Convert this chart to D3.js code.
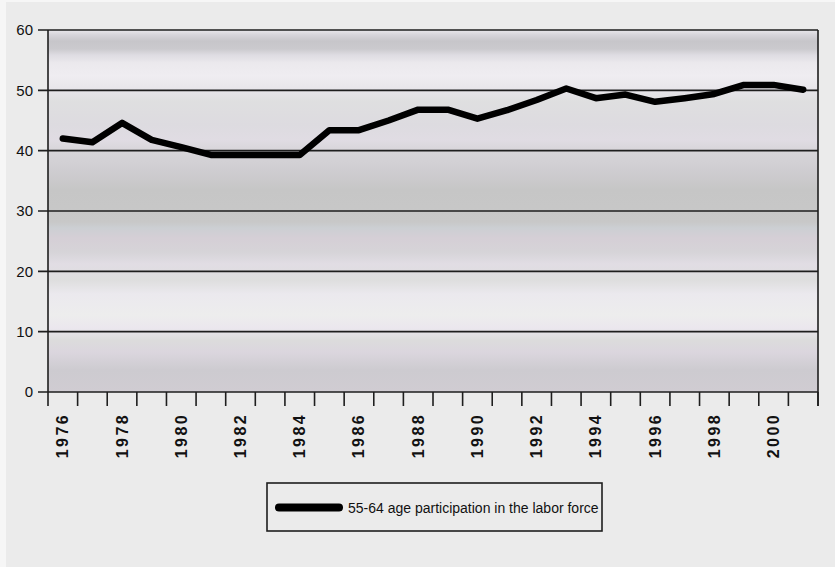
<!DOCTYPE html>
<html>
<head>
<meta charset="utf-8">
<script src="https://cdn.jsdelivr.net/npm/d3@7"></script>
<style>
  html, body { margin: 0; padding: 0; background: #f6f6f6; }
  svg { display: block; }
</style>
</head>
<body>
<svg id="chart" width="835" height="567"></svg>
<script>
// Labor force participation, ages 55-64, by year
const years = d3.range(1976, 2002);
const participation = [42.0, 41.4, 44.6, 41.8, 40.6, 39.3, 39.3, 39.3, 39.3, 43.4,
                       43.4, 45.0, 46.8, 46.8, 45.3, 46.7, 48.4, 50.3, 48.7, 49.3,
                       48.1, 48.7, 49.4, 50.9, 50.9, 50.1];
const yTicks = [0, 10, 20, 30, 40, 50, 60];
const xTickLabels = [1976, 1978, 1980, 1982, 1984, 1986, 1988, 1990, 1992, 1994, 1996, 1998, 2000];
const seriesName = "55-64 age participation in the labor force";

const svg = d3.select("#chart");
const W = 835, H = 567;
const plot = { left: 48, right: 818, top: 30, bottom: 392 };

// page background
svg.append("rect").attr("x", 6).attr("y", 2).attr("width", W - 6).attr("height", H - 2)
  .attr("fill", "#ebebeb");

const x = d3.scaleBand().domain(years).range([plot.left, plot.right]).paddingInner(0).paddingOuter(0);
const y = d3.scaleLinear().domain([0, 60]).range([plot.bottom, plot.top]);

// brushed-metal style banded backdrop
const defs = svg.append("defs");
const grad = defs.append("linearGradient").attr("id", "metal")
  .attr("gradientUnits", "userSpaceOnUse")
  .attr("x1", 0).attr("y1", plot.top).attr("x2", 0).attr("y2", plot.bottom);
const bands = [
  [30, "#e9e7eb"], [35, "#d6d4da"], [41, "#c7c6ca"], [49, "#cbcace"], [55, "#dedce2"],
  [63, "#ebe9ed"], [76, "#efedf1"], [90, "#e7e5ea"], [101, "#dfdfe0"], [125, "#dddbe0"],
  [140, "#e0dce3"], [151, "#d7d5d9"], [170, "#cfcdd1"], [190, "#c6c6c6"], [222, "#c8c8c8"],
  [228, "#cccfd3"], [238, "#d5cfd6"], [252, "#d6d4d8"], [264, "#e1dde4"], [280, "#dedede"],
  [294, "#ebe9ee"], [315, "#ededed"], [328, "#ebe7ee"], [340, "#dcdcdc"], [352, "#dbd6de"],
  [370, "#cdcbd0"], [392, "#d0ccd2"]
];
bands.forEach(([py, c]) => {
  grad.append("stop").attr("offset", (py - plot.top) / (plot.bottom - plot.top)).attr("stop-color", c);
});
svg.append("rect")
  .attr("x", plot.left).attr("y", plot.top)
  .attr("width", plot.right - plot.left).attr("height", plot.bottom - plot.top)
  .attr("fill", "url(#metal)");

// horizontal gridlines with left ticks
svg.append("g").selectAll("line").data(yTicks).join("line")
  .attr("x1", plot.left - 10).attr("x2", plot.right)
  .attr("y1", d => y(d)).attr("y2", d => y(d))
  .attr("stroke", "#1e1e1e").attr("stroke-width", 1.6);

// y labels
svg.append("g").selectAll("text").data(yTicks).join("text")
  .attr("x", 33).attr("y", d => y(d)).attr("dy", "0.36em")
  .attr("text-anchor", "end")
  .attr("font-family", "Liberation Sans, Arial, sans-serif")
  .attr("font-size", 15).attr("fill", "#111")
  .text(d => d);

// frame: left axis and right border
svg.append("line").attr("x1", plot.left).attr("x2", plot.left)
  .attr("y1", plot.top).attr("y2", plot.bottom)
  .attr("stroke", "#1e1e1e").attr("stroke-width", 1.6);
svg.append("line").attr("x1", plot.right).attr("x2", plot.right)
  .attr("y1", plot.top).attr("y2", plot.bottom + 14)
  .attr("stroke", "#1e1e1e").attr("stroke-width", 1.6);

// bottom tick marks between categories
const boundaries = years.map(d => x(d)).concat([x(years[years.length - 1]) + x.bandwidth()]);
svg.append("g").selectAll("line").data(boundaries).join("line")
  .attr("x1", d => d).attr("x2", d => d)
  .attr("y1", plot.bottom).attr("y2", plot.bottom + 14)
  .attr("stroke", "#1e1e1e").attr("stroke-width", 1.6);

// x labels, rotated
svg.append("g").selectAll("text").data(xTickLabels).join("text")
  .attr("transform", d => `translate(${x(d) + x.bandwidth() / 2 + 5.5},413) rotate(-90)`)
  .attr("text-anchor", "end")
  .attr("font-family", "Liberation Sans, Arial, sans-serif")
  .attr("font-weight", "bold")
  .attr("font-size", 16).attr("letter-spacing", 2.4).attr("fill", "#111")
  .text(d => d);

// the series line
const line = d3.line()
  .x((d, i) => x(years[i]) + x.bandwidth() / 2)
  .y(d => y(d));
svg.append("path").datum(participation)
  .attr("d", line)
  .attr("fill", "none").attr("stroke", "#000")
  .attr("stroke-width", 6.5).attr("stroke-linejoin", "round").attr("stroke-linecap", "round");

// legend
const lg = svg.append("g");
lg.append("rect").attr("x", 267).attr("y", 483).attr("width", 335).attr("height", 48)
  .attr("fill", "none").attr("stroke", "#1e1e1e").attr("stroke-width", 1.6);
lg.append("line").attr("x1", 279).attr("x2", 339).attr("y1", 507.5).attr("y2", 507.5)
  .attr("stroke", "#000").attr("stroke-width", 8).attr("stroke-linecap", "round");
lg.append("text").attr("x", 348).attr("y", 507.5).attr("dy", "0.36em")
  .attr("font-family", "Liberation Sans, Arial, sans-serif")
  .attr("font-size", 14).attr("fill", "#111")
  .text(seriesName);
</script>
</body>
</html>
